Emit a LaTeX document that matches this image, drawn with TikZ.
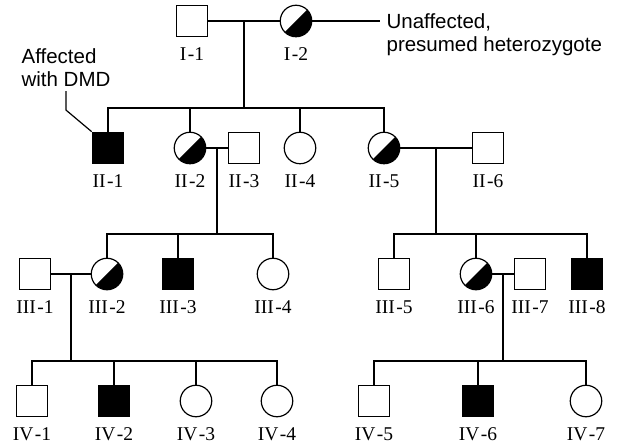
\documentclass[tikz,border=0pt]{standalone}
\usepackage{fontspec}
\setmainfont{Liberation Serif}
\setsansfont{Liberation Sans}
\usetikzlibrary{calc}

\tikzset{
  person/.style={draw, inner sep=0pt, minimum size=31.5pt},
  male/.style={person, rectangle},
  female/.style={person, circle},
  affected/.style={male, fill=black},
  carrier/.style={female, path picture={
      \fill[black] (path picture bounding box.north east)
        -- (path picture bounding box.south west)
        -- (path picture bounding box.south east) -- cycle;}},
  lbl/.style={anchor=base, inner sep=0pt, font=\fontsize{19.5}{22}\selectfont},
  note/.style={align=left, inner xsep=6pt, font=\sffamily\fontsize{20.5}{23.5}\selectfont}
}

\begin{document}
\begin{tikzpicture}[x=1pt, y=-1pt, line width=1.2pt]
    \useasboundingbox (0,0) rectangle (619,446);
    % generation I
    \node[male] (I1) at (192,21) {};
    \node[carrier] (I2) at (296,21) {};
    % generation II
    \node[affected] (II1) at (108,148) {};
    \node[carrier] (II2) at (190,148) {};
    \node[male] (II3) at (244,148) {};
    \node[female] (II4) at (300,148) {};
    \node[carrier] (II5) at (384,148) {};
    \node[male] (II6) at (488,148) {};
    % generation III
    \node[male] (III1) at (35,274) {};
    \node[carrier] (III2) at (107,274) {};
    \node[affected] (III3) at (178,274) {};
    \node[female] (III4) at (273,274) {};
    \node[male] (III5) at (394,274) {};
    \node[carrier] (III6) at (476,274) {};
    \node[male] (III7) at (530,274) {};
    \node[affected] (III8) at (587,274) {};
    % generation IV
    \node[male] (IV1) at (32,401) {};
    \node[affected] (IV2) at (114,401) {};
    \node[female] (IV3) at (196,401) {};
    \node[female] (IV4) at (277,401) {};
    \node[male] (IV5) at (374,401) {};
    \node[affected] (IV6) at (478,401) {};
    \node[female] (IV7) at (586,401) {};

    % couples and sibships
    \draw (I1) -- (I2);
    \coordinate (c1) at ($(I1)!0.5!(I2)$);
    \coordinate (s1) at ($(c1)+(0,87)$);
    \draw (c1) -- (s1);
    \draw (II1.north) |- (s1) -| (II5.north);
    \foreach \c in {II2, II4} \draw (\c.north) -- (\c.north |- s1);

    \draw (II2) -- (II3);
    \coordinate (c2) at ($(II2)!0.5!(II3)$);
    \coordinate (s2) at ($(c2)+(0,86)$);
    \draw (c2) -- (s2);
    \draw (III2.north) |- (s2) -| (III4.north);
    \draw (III3.north) -- (III3.north |- s2);

    \draw (II5) -- (II6);
    \coordinate (c3) at ($(II5)!0.5!(II6)$);
    \coordinate (s3) at ($(c3)+(0,86)$);
    \draw (c3) -- (s3);
    \draw (III5.north) |- (s3) -| (III8.north);
    \draw (III6.north) -- (III6.north |- s3);

    \draw (III1) -- (III2);
    \coordinate (c4) at ($(III1)!0.5!(III2)$);
    \coordinate (s4) at ($(c4)+(0,87)$);
    \draw (c4) -- (s4);
    \draw (IV1.north) |- (s4) -| (IV4.north);
    \foreach \c in {IV2, IV3} \draw (\c.north) -- (\c.north |- s4);

    \draw (III6) -- (III7);
    \coordinate (c5) at ($(III6)!0.5!(III7)$);
    \coordinate (s5) at ($(c5)+(0,87)$);
    \draw (c5) -- (s5);
    \draw (IV5.north) |- (s5) -| (IV7.north);
    \draw (IV6.north) -- (IV6.north |- s5);

    % labels
    \foreach \n/\g/\i in {I1/I/1, I2/I/2, II1/II/1, II2/II/2, II3/II/3, II4/II/4,
        II5/II/5, II6/II/6, III1/III/1, III2/III/2, III3/III/3, III4/III/4,
        III5/III/5, III6/III/6, III7/III/7, III8/III/8, IV1/IV/1, IV2/IV/2,
        IV3/IV/3, IV4/IV/4, IV5/IV/5, IV6/IV/6, IV7/IV/7}
      \node[lbl] at ($(\n.south)+(0,23.5)$) {\g\kern1.5pt-\i};

    % notes
    \node[note, anchor=base west] (het) at (380,52) {Unaffected,\\presumed heterozygote};
    \draw (I2) -- (I2 -| het.west);
    \node[note, anchor=base west] (dmd) at (15,87) {Affected\\with DMD};
    \draw (dmd.south) -- ++(0,19) -- (II1.north west);
  \end{tikzpicture}
\end{document}
